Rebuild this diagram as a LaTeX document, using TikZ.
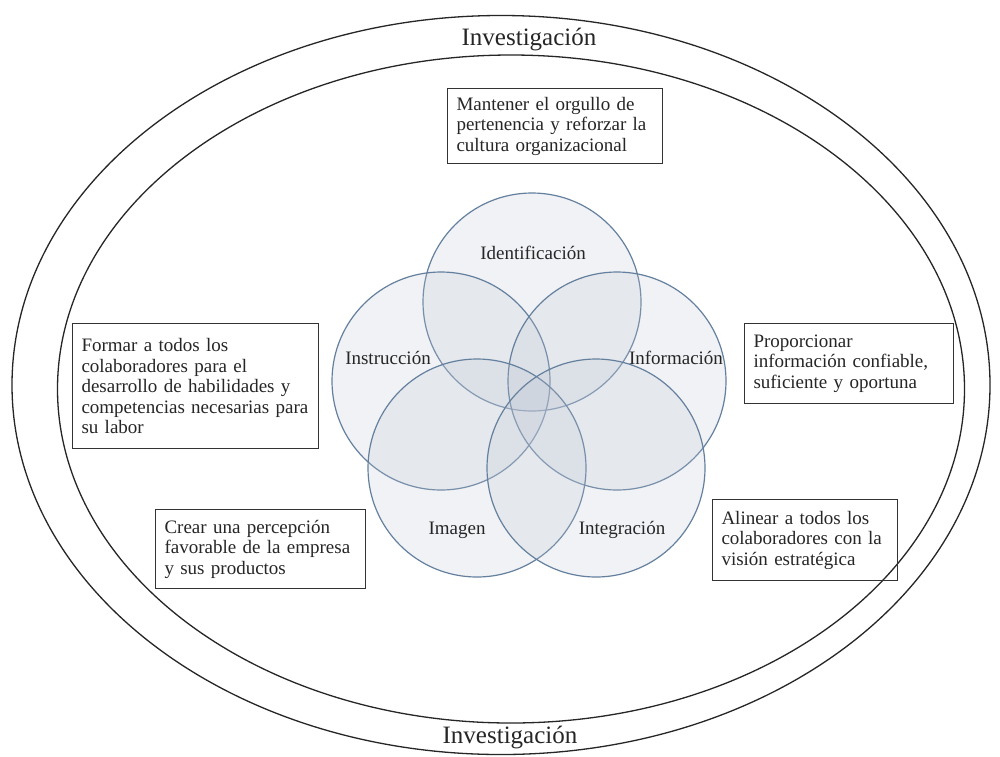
\documentclass[tikz,border=0pt]{standalone}
\usepackage{fontspec}
\setmainfont{Liberation Serif}
\usetikzlibrary{shapes.geometric}
\begin{document}
\begin{tikzpicture}[x=1pt,y=-1pt,
  ring/.style={ellipse, draw=black!85, line width=1.3pt, inner sep=0pt},
  petal/.style={circle, draw={rgb,255:red,100;green,128;blue,158}, line width=1.2pt,
    fill={rgb,255:red,190;green,197;blue,212}, fill opacity=0.22, minimum size=218pt, inner sep=0pt},
  lbl/.style={font=\fontsize{19}{20}\selectfont, text=black!85},
  infobox/.style={draw=black!80, line width=1pt, anchor=north west, align=left,
    inner xsep=9pt, inner ysep=4pt, font=\fontsize{19}{20.5}\selectfont, text=black!85},
  inv/.style={font=\fontsize{25}{26}\selectfont, text=black!85}
]
\useasboundingbox (0,0) rectangle (1000,756);
\fill[white] (0,0) rectangle (1000,756);
% rings
\node[ring, minimum width=978pt, minimum height=739pt] (outer) at (501,385) {};
\node[ring, minimum width=907pt, minimum height=668pt] (inner) at (511,389) {};
\node[inv] (invtop) at (529,40) {Investigación};
\node[inv] (invbot) at (510,737) {Investigación};
% petals
\node[petal] (cid) at (532,302) {};
\node[petal] (cins) at (441,381) {};
\node[petal] (cinf) at (617,381) {};
\node[petal] (cimg) at (477,468) {};
\node[petal] (cint) at (596,468) {};
\node[lbl] (lid) at (533,253) {Identificación};
\node[lbl] (lins) at (388,358) {Instrucción};
\node[lbl] (linf) at (676,358) {Información};
\node[lbl] (limg) at (457,530) {Imagen};
\node[lbl] (lint) at (622,530) {Integración};
% boxes
\node[infobox, text width=197pt, minimum height=75pt] (bid) at (447,88)
  {Mantener el orgullo de\\pertenencia y reforzar la\\cultura organizacional};
\node[infobox, text width=228pt, minimum height=125pt] (bins) at (72,323)
  {Formar a todos los\\colaboradores para el\\desarrollo de habilidades y\\competencias necesarias para\\su labor};
\node[infobox, text width=191pt, minimum height=80pt] (binf) at (744,323)
  {Proporcionar\\información confiable,\\suficiente y oportuna};
\node[infobox, text width=192pt, minimum height=79pt] (bimg) at (155,509)
  {Crear una percepción\\favorable de la empresa\\y sus productos};
\node[infobox, text width=167pt, minimum height=81pt] (bint) at (712,499)
  {Alinear a todos los\\colaboradores con la\\visión estratégica};
\end{tikzpicture}
\end{document}
